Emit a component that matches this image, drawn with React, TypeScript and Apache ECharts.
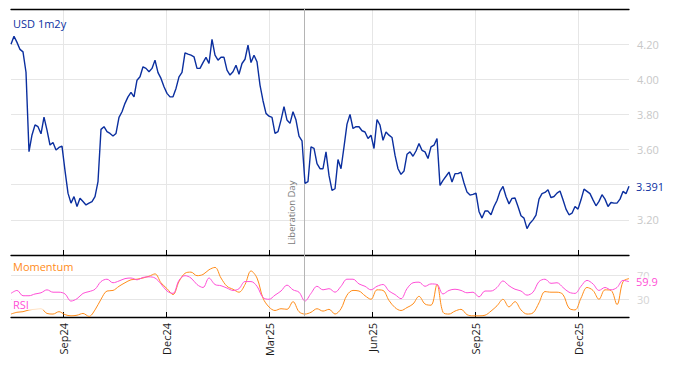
import React, { useEffect, useRef } from 'react';
import * as echarts from 'echarts';

// ---- data ----
const START_DATE = '2024-07-16';
const END_DATE = '2026-01-16';
const TICK_DATES = ['2024-09-01', '2024-12-01', '2025-03-01', '2025-06-01', '2025-09-01', '2025-12-01'];
const TICK_LABELS = ['Sep24', 'Dec24', 'Mar25', 'Jun25', 'Sep25', 'Dec25'];
const EVENT_DATE = '2025-04-02';
const EVENT_LABEL = 'Liberation Day';
const SERIES_NAMES = ['USD 1m2y', 'Momentum', 'RSI'];
const OSC_LEVELS = [30, 70];

const USD_1M2Y = [
  4.20, 4.245, 4.21, 4.17, 4.156, 4.04, 3.588, 3.683, 3.74, 3.73,
  3.69, 3.785, 3.711, 3.626, 3.64, 3.597, 3.612, 3.62, 3.48, 3.352,
  3.295, 3.332, 3.276, 3.323, 3.304, 3.285, 3.295, 3.304, 3.332, 3.418,
  3.715, 3.73, 3.702, 3.692, 3.677, 3.692, 3.783, 3.815, 3.863, 3.90,
  3.925, 3.90, 3.995, 4.014, 4.071, 4.062, 4.043, 4.062, 4.109, 4.038,
  4.005, 3.958, 3.92, 3.90, 3.90, 3.948, 4.014, 4.039, 4.15, 4.143,
  4.137, 4.128, 4.062, 4.062, 4.095, 4.125, 4.09, 4.227, 4.137, 4.109,
  4.125, 4.125, 4.052, 4.024, 4.043, 4.08, 4.029, 4.09, 4.114, 4.194,
  4.095, 4.137, 4.10, 3.967, 3.878, 3.806, 3.79, 3.783, 3.692, 3.702,
  3.768, 3.844, 3.768, 3.749, 3.815, 3.768, 3.677, 3.65, 3.408, 3.418,
  3.616, 3.607, 3.52, 3.491, 3.491, 3.587, 3.453, 3.368, 3.377, 3.543,
  3.491, 3.615, 3.745, 3.80, 3.72, 3.73, 3.73, 3.707, 3.70, 3.663,
  3.682, 3.606, 3.771, 3.739, 3.653, 3.70, 3.682, 3.669, 3.568, 3.491,
  3.459, 3.478, 3.573, 3.587, 3.562, 3.592, 3.634, 3.596, 3.587, 3.549,
  3.615, 3.625, 3.663, 3.396, 3.425, 3.448, 3.472, 3.415, 3.463, 3.463,
  3.472, 3.41, 3.358, 3.341, 3.345, 3.352, 3.248, 3.21, 3.25, 3.25,
  3.229, 3.276, 3.31, 3.362, 3.39, 3.333, 3.291, 3.322, 3.324, 3.276,
  3.223, 3.21, 3.15, 3.181, 3.20, 3.227, 3.318, 3.349, 3.356, 3.371,
  3.326, 3.333, 3.352, 3.364, 3.314, 3.261, 3.229, 3.238, 3.276, 3.261,
  3.314, 3.375, 3.362, 3.349, 3.314, 3.28, 3.305, 3.343, 3.318, 3.276,
  3.299, 3.295, 3.295, 3.318, 3.362, 3.349, 3.391,
];

const RSI = [
  40, 45, 36, 36, 39, 41, 46, 42, 42, 39,
  27, 31, 40, 43, 47, 60, 64, 58, 61, 65,
  66, 63, 67, 68, 66, 56, 44, 40, 62, 70,
  66, 55, 50, 66, 55, 53, 49, 45, 48, 60,
  60, 52, 33, 30, 37, 44, 54, 46, 42, 27,
  40, 52, 46, 48, 42, 52, 64, 64, 56, 52,
  46, 52, 55, 44, 38, 31, 48, 58, 59, 52,
  56, 55, 39, 45, 47, 45, 41, 42, 34, 44,
  44, 50, 61, 53, 47, 44, 37, 42, 60, 64,
  57, 58, 50, 42, 40, 52, 62, 56, 45, 50,
  46, 50, 62, 59.9,
];

const MOMENTUM = [
  5, 8, 9, 12, 13, 14, 6, 5, 9, 4,
  2, 3, 6, 1, 12, 30, 44, 45, 52, 58,
  63, 64, 66, 69, 73, 58, 48, 38, 60, 74,
  76, 70, 72, 80, 84, 66, 52, 47, 42, 55,
  78, 66, 32, 17, 11, 14, 13, 26, 9, 5,
  8, 14, 10, 13, 5, 14, 37, 45, 44, 36,
  30, 46, 45, 28, 16, 11, 16, 22, 35, 22,
  20, 55, 8, 5, 10, 13, 4, 2, 2, 3,
  10, 19, 30, 17, 26, 12, 5, 7, 24, 43,
  42, 42, 38, 15, 12, 32, 50, 45, 30, 46,
  45, 21, 60, 65,
];

// ---- helpers ----
// x axis unit: months since 2024-07-01 (quarters are evenly spaced in the reference)
const monthPos = (d: string) => {
  const [y, m, dd] = d.split('-').map(Number);
  const dim = new Date(Date.UTC(y, m, 0)).getUTCDate();
  return (y - 2024) * 12 + (m - 7) + (dd - 1) / dim;
};
const X_MIN = monthPos(START_DATE);
const X_MAX = monthPos(END_DATE);
const TICK_POS = TICK_DATES.map(monthPos);
const EVENT_POS = monthPos(EVENT_DATE);
const spread = (vals: number[]) =>
  vals.map((v, i) => [X_MIN + (i * (X_MAX - X_MIN)) / (vals.length - 1), v]);
const tickLabel = (v: number) => {
  const i = TICK_POS.findIndex((t) => Math.abs(t - v) < 1e-6);
  return i >= 0 ? TICK_LABELS[i] : '';
};

const BLUE = '#0b2f9f';
const ORANGE = '#ff8c1a';
const PINK = '#ff4fd6';
const FONT = '"Open Sans", sans-serif';
const GRID_LINE = '#e6e6e6';

export default function App() {
  const ref = useRef<HTMLDivElement>(null);
  useEffect(() => {
    if (!ref.current) return;
    document.body.style.margin = '0';
    const chart = echarts.init(ref.current, null, { renderer: 'svg' });
    const xBase = {
      type: 'value',
      min: X_MIN,
      max: X_MAX,
    };
    chart.setOption({
      animation: false,
      textStyle: { fontFamily: FONT },
      grid: [
        { left: 11, right: 45, top: 9, height: 246 },
        { left: 11, right: 45, top: 255, height: 62 },
      ],
      xAxis: [
        {
          ...xBase,
          gridIndex: 0,
          position: 'bottom',
          axisLine: { show: true, lineStyle: { color: '#000', width: 1.3 } },
          axisTick: { show: true, inside: true, length: 5, customValues: TICK_POS, lineStyle: { color: '#000' } },
          axisLabel: { show: false, customValues: TICK_POS },
          splitLine: { show: true, lineStyle: { color: GRID_LINE } },
        },
        {
          ...xBase,
          gridIndex: 0,
          position: 'top',
          axisLine: { show: true, lineStyle: { color: '#000', width: 1.3 } },
          axisTick: { show: false },
          axisLabel: { show: false },
          splitLine: { show: false },
        },
        {
          ...xBase,
          gridIndex: 1,
          position: 'bottom',
          axisLine: { show: true, lineStyle: { color: '#000', width: 1.3 } },
          axisTick: { show: true, inside: true, length: 5, customValues: TICK_POS, lineStyle: { color: '#000' } },
          axisLabel: {
            show: true,
            customValues: TICK_POS,
            rotate: 90,
            margin: 6,
            color: '#1a1a1a',
            fontSize: 11,
            fontFamily: FONT,
            formatter: (v: number) => tickLabel(v),
          },
          splitLine: { show: true, lineStyle: { color: GRID_LINE } },
        },
      ],
      yAxis: [
        {
          type: 'value',
          gridIndex: 0,
          position: 'right',
          min: 3.0,
          max: 4.4,
          interval: 0.2,
          axisLine: { show: false },
          axisTick: { show: false },
          axisLabel: {
            color: '#c8c8c8',
            fontSize: 11,
            margin: 8,
            fontFamily: FONT,
            showMinLabel: false,
            showMaxLabel: false,
            formatter: (v: number) => (Math.abs(v - 3.4) < 1e-6 ? '' : v.toFixed(2)),
          },
          splitLine: { show: true, lineStyle: { color: GRID_LINE } },
        },
        {
          type: 'value',
          gridIndex: 1,
          position: 'right',
          min: 0,
          max: 105,
          axisLine: { show: false },
          axisTick: { show: false, customValues: OSC_LEVELS },
          axisLabel: {
            customValues: OSC_LEVELS,
            color: '#d4d4d4',
            fontSize: 11,
            margin: 8,
            fontFamily: FONT,
          },
          splitLine: { show: true, lineStyle: { color: GRID_LINE } },
        },
      ],
      series: [
        {
          name: SERIES_NAMES[0],
          type: 'line',
          xAxisIndex: 0,
          yAxisIndex: 0,
          data: spread(USD_1M2Y),
          symbol: 'none',
          lineStyle: { color: BLUE, width: 1.4 },
          itemStyle: { color: BLUE },
          z: 5,
          endLabel: {
            show: true,
            distance: 7,
            color: BLUE,
            fontSize: 11,
            fontFamily: FONT,
            formatter: (p: any) => Number(p.value[1]).toFixed(3),
          },
          markLine: {
            silent: true,
            symbol: 'none',
            lineStyle: { color: '#b4b4b4', width: 1, type: 'solid' },
            label: {
              show: true,
              position: 'insideStartTop',
              formatter: EVENT_LABEL,
              color: '#7a7a7a',
              fontSize: 9.5,
              fontFamily: FONT,
              distance: [10, 8],
            },
            data: [{ xAxis: EVENT_POS }],
          },
        },
        {
          name: SERIES_NAMES[1],
          type: 'line',
          xAxisIndex: 2,
          yAxisIndex: 1,
          data: spread(MOMENTUM),
          symbol: 'none',
          smooth: 0.35,
          lineStyle: { color: ORANGE, width: 1 },
          itemStyle: { color: ORANGE },
          z: 3,
        },
        {
          name: SERIES_NAMES[2],
          type: 'line',
          xAxisIndex: 2,
          yAxisIndex: 1,
          data: spread(RSI),
          symbol: 'none',
          smooth: 0.35,
          lineStyle: { color: PINK, width: 1 },
          itemStyle: { color: PINK },
          z: 4,
          endLabel: {
            show: true,
            distance: 7,
            color: PINK,
            fontSize: 11,
            fontFamily: FONT,
            backgroundColor: 'rgba(255,255,255,0.6)',
            formatter: (p: any) => Number(p.value[1]).toFixed(1),
          },
          markLine: {
            silent: true,
            symbol: 'none',
            lineStyle: { color: '#b4b4b4', width: 1, type: 'solid' },
            label: { show: false },
            data: [{ xAxis: EVENT_POS }],
          },
        },
      ],
      graphic: [
        {
          type: 'text',
          left: 13,
          top: 18,
          z: 100,
          style: { text: SERIES_NAMES[0], fill: BLUE, font: `11px ${FONT}` },
        },
        {
          type: 'text',
          left: 13,
          top: 261,
          z: 100,
          style: {
            text: SERIES_NAMES[1],
            fill: ORANGE,
            font: `11px ${FONT}`,
            backgroundColor: 'rgba(255,255,255,0.75)',
          },
        },
        {
          type: 'text',
          left: 12,
          top: 299,
          z: 100,
          style: {
            text: SERIES_NAMES[2],
            fill: PINK,
            font: `11px ${FONT}`,
            backgroundColor: 'rgba(255,255,255,0.75)',
            padding: [0, 14, 0, 1],
          },
        },
      ],
    });
    return () => chart.dispose();
  }, []);
  return <div ref={ref} style={{ width: 674, height: 366 }} />;
}
